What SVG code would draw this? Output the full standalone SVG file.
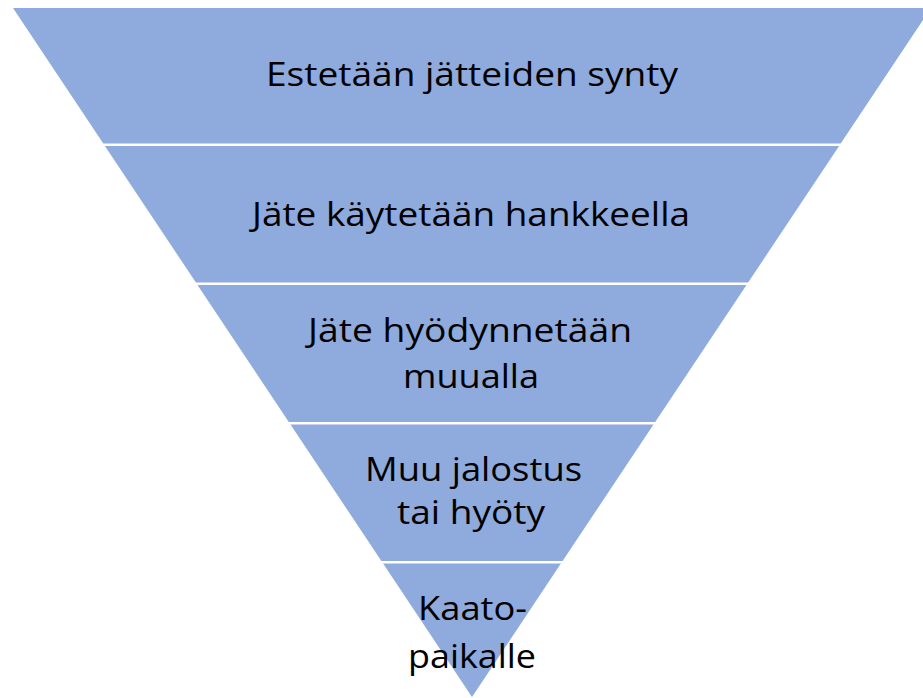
<svg xmlns="http://www.w3.org/2000/svg" width="923" height="698" viewBox="0 0 923 698">
<style>
.band{fill:#8FAADC;}
.lbl{font-family:"Open Sans","Liberation Sans",sans-serif;font-size:33px;fill:#000;text-anchor:middle;}
</style>
<rect width="923" height="698" fill="#fff"/>
<g id="level1">
<polygon class="band" points="13,8 931,8 840.7,143.5 103.3,143.5"/>
<text class="lbl" x="472" y="86" textLength="412" lengthAdjust="spacingAndGlyphs">Estetään jätteiden synty</text>
</g>
<g id="level2">
<polygon class="band" points="104.9,146 839.1,146 748.1,282.5 195.9,282.5"/>
<text class="lbl" x="471" y="226" textLength="438" lengthAdjust="spacingAndGlyphs">Jäte käytetään hankkeella</text>
</g>
<g id="level3">
<polygon class="band" points="197.5,285 746.5,285 655.2,422 288.8,422"/>
<text class="lbl" x="470" y="342" textLength="324" lengthAdjust="spacingAndGlyphs">Jäte hyödynnetään</text>
<text class="lbl" x="471" y="388" textLength="136" lengthAdjust="spacingAndGlyphs">muualla</text>
</g>
<g id="level4">
<polygon class="band" points="290.5,424.5 653.5,424.5 562.6,561 381.4,561"/>
<text class="lbl" x="473.5" y="481" textLength="217" lengthAdjust="spacingAndGlyphs">Muu jalostus</text>
<text class="lbl" x="471" y="524" textLength="148" lengthAdjust="spacingAndGlyphs">tai hyöty</text>
</g>
<g id="level5">
<polygon class="band" points="383.1,563.5 560.9,563.5 472,697"/>
<text class="lbl" x="472.5" y="620" textLength="109" lengthAdjust="spacingAndGlyphs">Kaato-</text>
<text class="lbl" x="472" y="668" textLength="128" lengthAdjust="spacingAndGlyphs">paikalle</text>
</g>
<g id="connectors"/>
</svg>
